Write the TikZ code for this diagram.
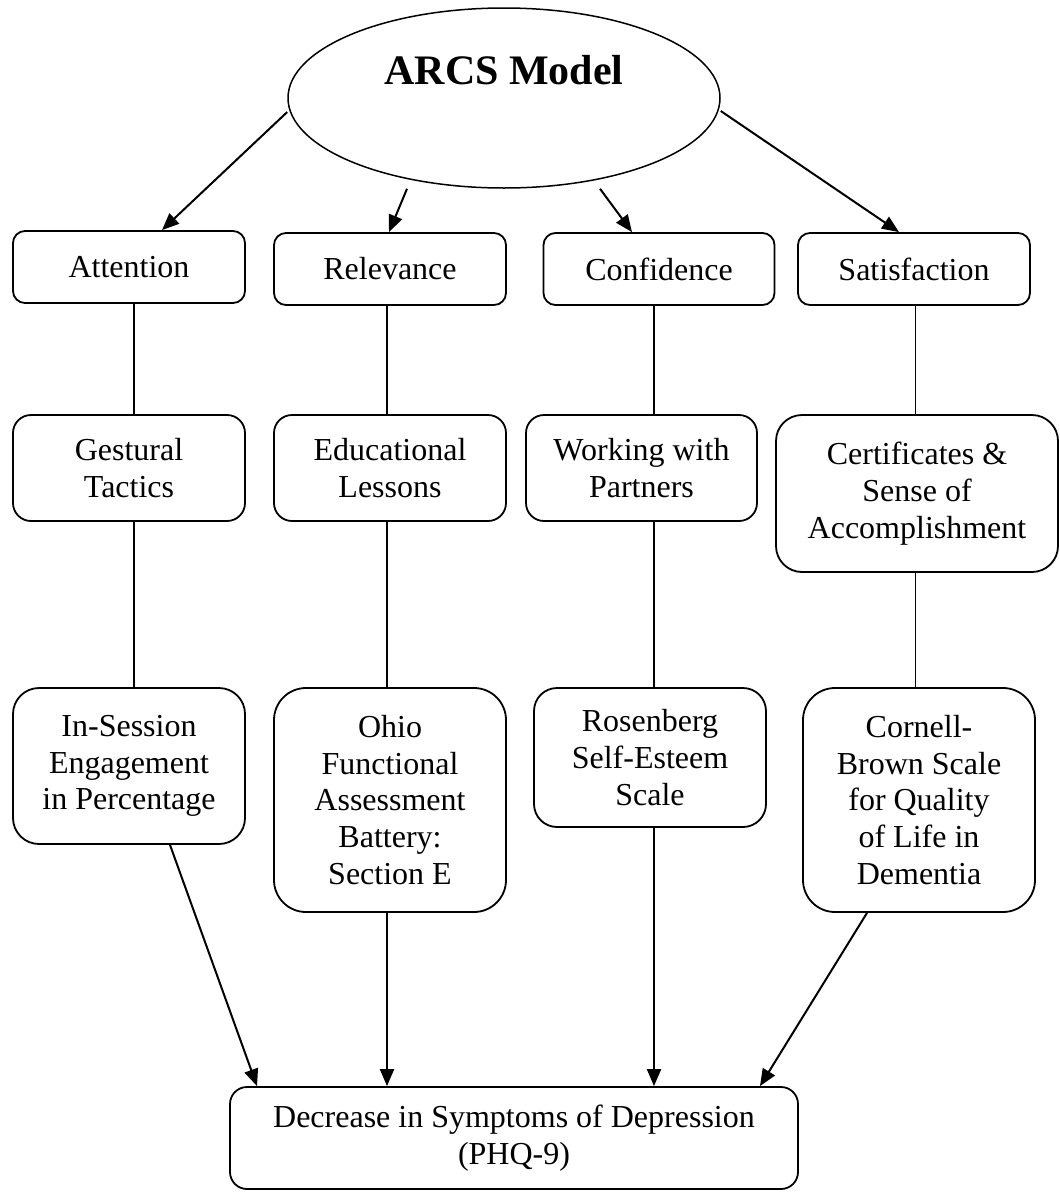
\documentclass[tikz,border=0pt]{standalone}
\usepackage{fontspec}
\setmainfont{Liberation Serif}
\usetikzlibrary{positioning, arrows.meta, shapes}

\begin{document}
\begin{tikzpicture}[
    x=1pt, y=1pt,
    model/.style={ellipse, draw=black, line width=1.5pt,
                  minimum width=432pt, minimum height=180pt},
    part/.style={rectangle, rounded corners=12pt, draw=black, line width=1.8pt,
                 minimum width=232pt, minimum height=72pt,
                 align=center, font=\fontsize{32}{36.8}\selectfont},
    tactic/.style={part, rounded corners=18pt, minimum height=106pt},
    measure/.style={part, rounded corners=26pt, minimum height=156pt},
    outcome/.style={part, rounded corners=17pt,
                    minimum width=568pt, minimum height=102pt},
    arrow/.style={-{Triangle[length=17pt, width=14pt]}, line width=2pt},
    link/.style={line width=1.3pt}
  ]
    \useasboundingbox (0,0) rectangle (1060,-1192);

    % Model
    \node[model, label={[name=arcstitle, yshift=28pt,
          font=\fontsize{42}{48}\selectfont\bfseries]center:ARCS Model}]
          (arcs) at (504,-98) {};

    % Components
    \node[part] (attention) at (129,-267) {Attention};
    \node[part] (relevance) at (390,-269) {Relevance};
    \node[part, minimum width=231pt] (confidence) at (659,-269) {Confidence};
    \node[part] (satisfaction) at (914,-269) {Satisfaction};

    % Tactics
    \node[tactic] (gestural) at (129,-468) {Gestural\\Tactics};
    \node[tactic] (educational) at (390,-468) {Educational\\Lessons};
    \node[tactic, minimum width=231pt] (working) at (641.5,-468) {Working with\\Partners};
    \node[tactic, rounded corners=26pt, minimum width=282pt, minimum height=157pt]
          (certificates) at (917,-493.5) {Certificates \&\\Sense of\\Accomplishment};

    % Measures
    \node[measure] (insession) at (129,-766) {In-Session\\Engagement\\in Percentage};
    \node[measure, rounded corners=32pt, minimum height=224pt]
          (ohio) at (390,-800) {Ohio\\Functional\\Assessment\\Battery:\\Section E};
    \node[measure, rounded corners=23pt, minimum height=139pt]
          (rosenberg) at (650,-757.5) {Rosenberg\\Self-Esteem\\Scale};
    \node[measure, rounded corners=32pt, minimum height=224pt]
          (cornell) at (919,-800) {Cornell-\\Brown Scale\\for Quality\\of Life in\\Dementia};

    % Outcome
    \node[outcome] (phq) at (514,-1138) {Decrease in Symptoms of Depression\\(PHQ-9)};

    % Columns
    \coordinate (colA) at (134,0);
    \coordinate (colB) at (387,0);
    \coordinate (colC) at (654,0);
    \coordinate (colD) at (915.5,0);

    % Arrows from the model
    \draw[arrow] ([yshift=-14pt]arcs.west) -- ([xshift=33pt]attention.north);
    \draw[arrow] ([xshift=-97pt]arcs.south) -- ([xshift=-1pt]relevance.north);
    \draw[arrow] ([xshift=96pt]arcs.south) -- ([xshift=-27pt]confidence.north);
    \draw[arrow] ([yshift=-13pt]arcs.east) -- ([xshift=-15pt]satisfaction.north);

    % Links
    \draw[link] (attention.south -| colA) -- (gestural.north -| colA);
    \draw[link] (gestural.south -| colA) -- (insession.north -| colA);
    \draw[link] (relevance.south -| colB) -- (educational.north -| colB);
    \draw[link] (educational.south -| colB) -- (ohio.north -| colB);
    \draw[link] (confidence.south -| colC) -- (working.north -| colC);
    \draw[link] (working.south -| colC) -- (rosenberg.north -| colC);
    \draw[link] (satisfaction.south -| colD) -- (certificates.north -| colD);
    \draw[link] (certificates.south -| colD) -- (cornell.north -| colD);

    % Arrows to the outcome
    \draw[arrow] ([xshift=41pt]insession.south) -- ([xshift=-257pt]phq.north);
    \draw[arrow] (ohio.south -| colB) -- (phq.north -| colB);
    \draw[arrow] (rosenberg.south -| colC) -- (phq.north -| colC);
    \draw[arrow] ([xshift=-52pt]cornell.south) -- ([xshift=246pt]phq.north);

  \end{tikzpicture}
\end{document}
